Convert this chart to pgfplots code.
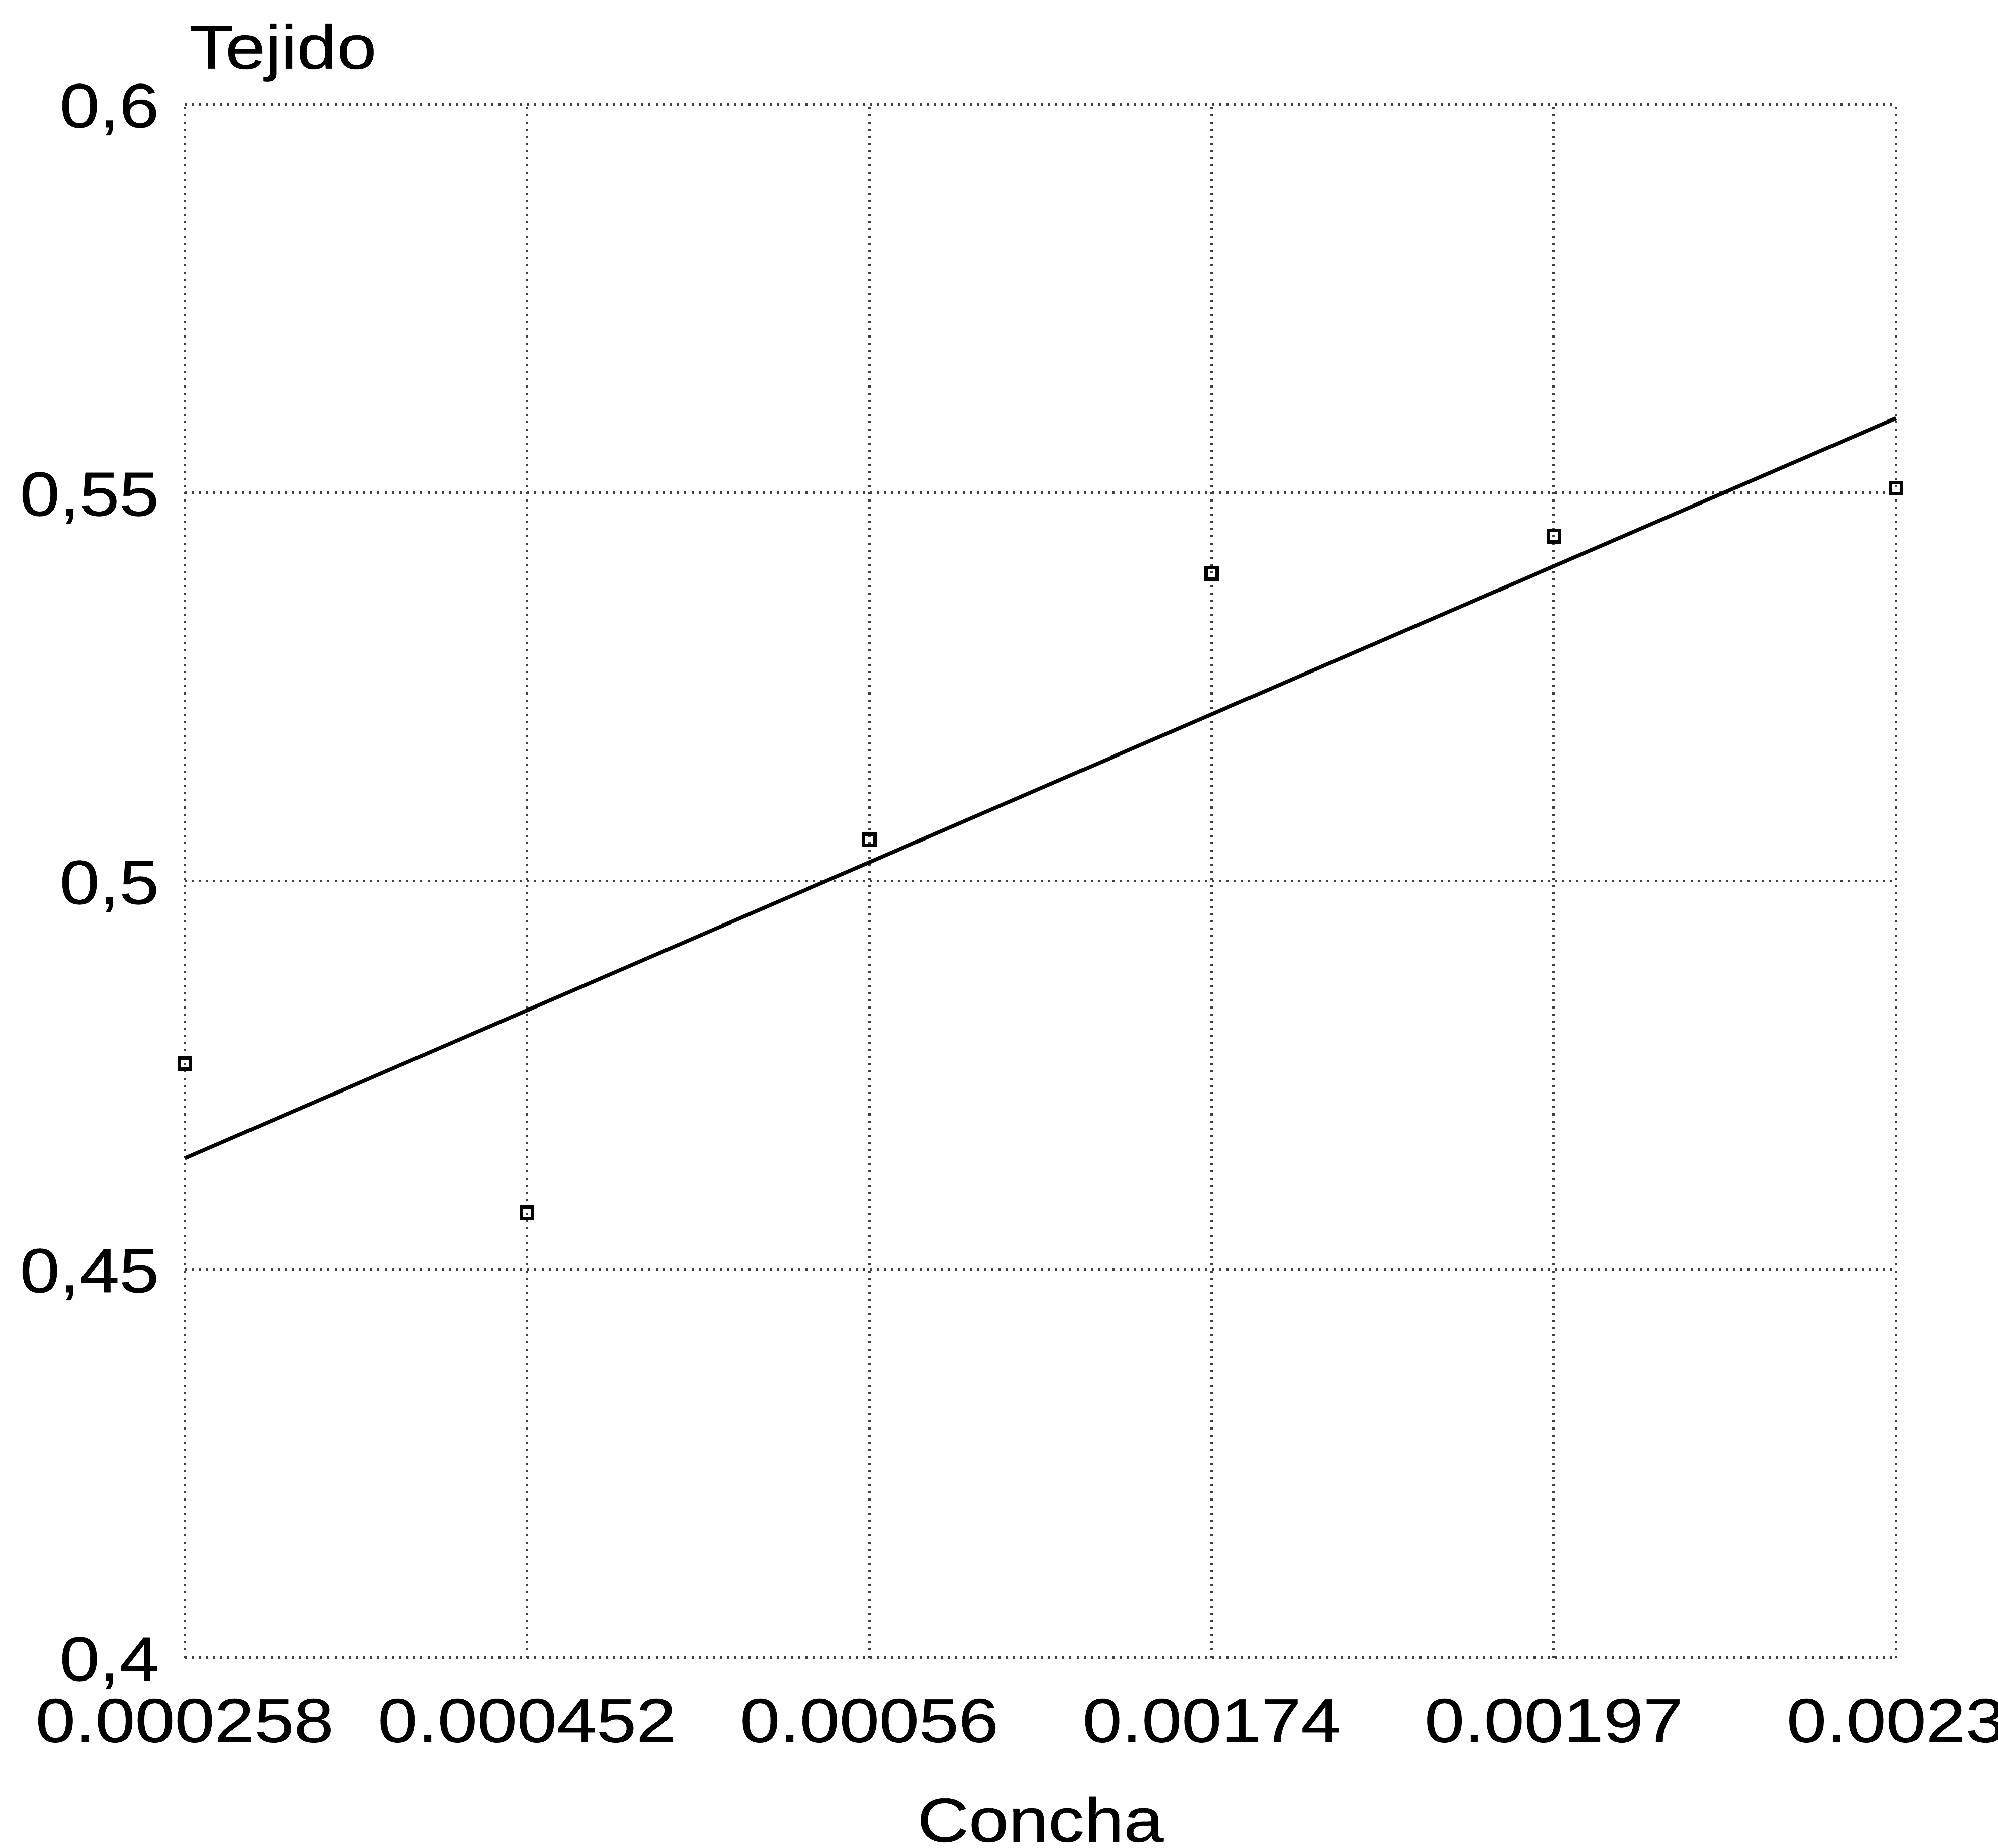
\documentclass[border=0pt]{standalone}
\usepackage{fontspec}
\setmainfont[FakeStretch=1.15, FakeBold=0.5]{Liberation Sans}
\usepackage{pgfplots}
\pgfplotsset{compat=1.18}
\begin{document}
\begin{tikzpicture}
\begin{axis}[
  scale only axis,
  width=335.75pt, height=304.75pt,
  xmin=0, xmax=5, ymin=0.4, ymax=0.6,
  xtick={0,1,2,3,4,5},
  xticklabels={0.000258,0.000452,0.00056,0.00174,0.00197,0.0023},
  ytick={0.4,0.45,0.5,0.55,0.6},
  yticklabels={{0,4},{0,45},{0,5},{0,55},{0,6}},
  axis line style={draw=none},
  major tick length=0pt,
  grid=major,
  major grid style={densely dotted, black!75, line width=0.5pt},
  tick label style={font=\fontsize{12.2}{14}\selectfont},
  xticklabel style={yshift=-4.5pt},
  yticklabel style={xshift=-1.5pt, yshift=-1pt},
  xlabel={Concha},
  xlabel style={font=\fontsize{12.2}{14}\selectfont, at={(axis description cs:0.5,0)}, anchor=center, yshift=-31.75pt},
  clip=false,
]
\addplot[black, line width=0.75pt] coordinates {(0,0.4643) (5,0.5596)};
\addplot[only marks, mark=square, mark size=1.1pt, mark options={black, line width=0.65pt}] coordinates {
(0,0.4765) (1,0.4573) (2,0.5053) (3,0.5396) (4,0.5444) (5,0.5506)};
\node[anchor=base west, inner sep=0pt, font=\fontsize{12.2}{14}\selectfont] at (rel axis cs:0,1) [yshift=7pt, xshift=0.75pt] {Tejido};
\end{axis}
\pgfresetboundingbox
\path ([shift={(-36.25pt,-37.25pt)}]current axis.south west) rectangle ([shift={(20pt,20.5pt)}]current axis.north east);
\end{tikzpicture}
\end{document}
